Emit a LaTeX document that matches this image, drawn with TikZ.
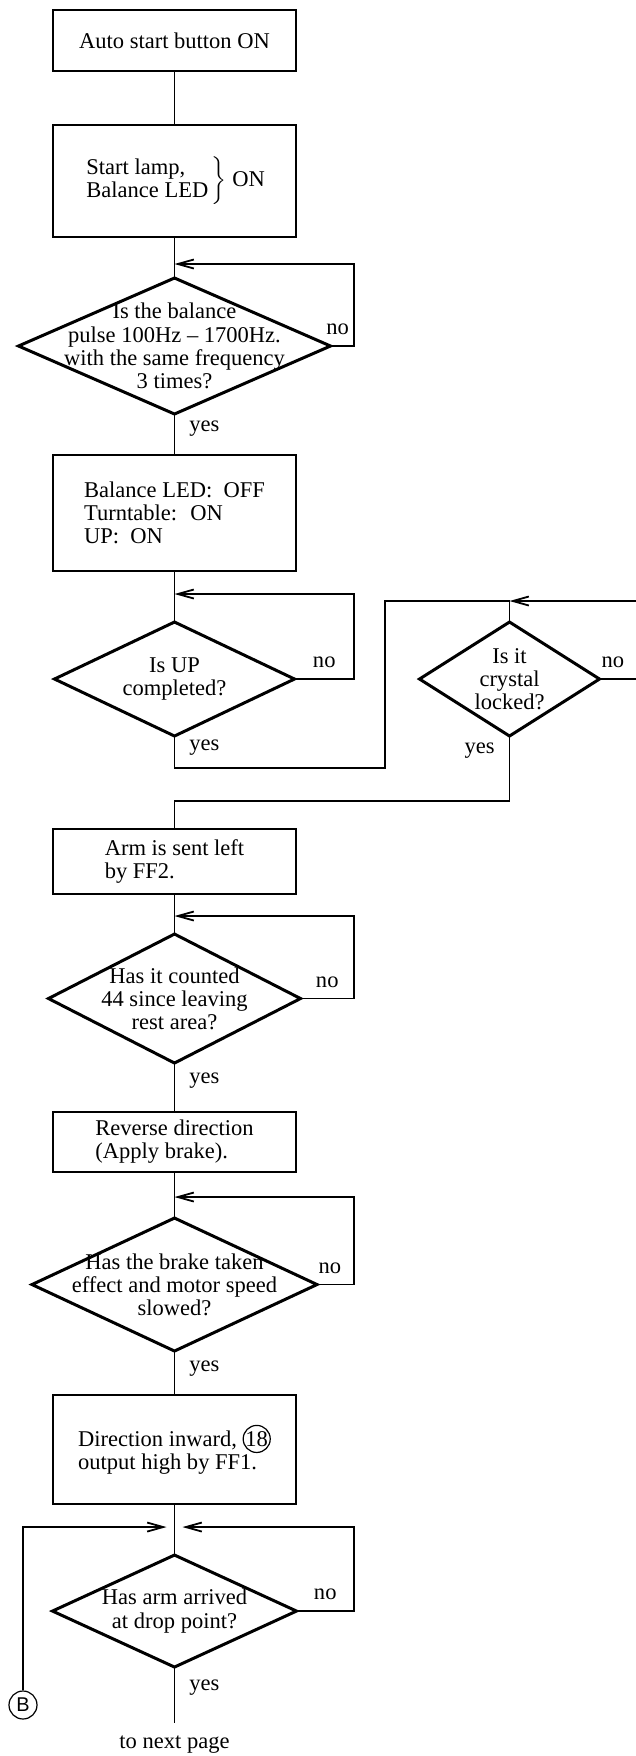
\documentclass[tikz,border=0pt]{standalone}
\usepackage{fontspec}
\setmainfont{Liberation Serif}
\setsansfont{Liberation Sans}
\usetikzlibrary{shapes.geometric, arrows.meta, positioning}

\newcommand{\circnum}[1]{\tikz[baseline=(cnum.base)]\node[draw, circle, inner sep=0pt,
    minimum width=0pt, minimum height=0pt, line width=0.6bp] (cnum) {#1};}

\begin{document}
\begin{tikzpicture}[
    x=0.5bp, y=-0.5bp,
    every node/.style={font=\fontsize{11.3}{11.6}\selectfont},
    process/.style={rectangle, draw, line width=1.2bp, minimum width=121.5bp,
        align=left, inner sep=0pt, outer sep=0pt},
    decision/.style={diamond, draw, line width=1.5bp, inner sep=0pt, outer sep=0pt},
    qtext/.style={align=center, inner sep=0pt},
    flow/.style={line width=0.9bp},
    back/.style={line width=0.9bp, -{Straight Barb[length=8bp, width=4.5bp]}},
    answer/.style={inner sep=1bp},
    connector/.style={draw, circle, line width=0.6bp, inner sep=0pt, minimum size=14bp,
        font=\sffamily\fontsize{10}{10}\selectfont}
]
\useasboundingbox (0,0) rectangle (636,1756);

% Colonna principale
\node[process, minimum height=30.5bp] (start) at (174.5,40.5) {Auto start button ON};
\node[process, minimum height=56bp, below=27bp of start] (lamp)
    {$\left.\begin{tabular}{@{}l@{}}Start lamp,\\Balance LED\end{tabular}\,\right\}$ ON};
\node[decision, minimum width=156bp, minimum height=68bp, below=20.5bp of lamp] (pulse) {};
\node[qtext] (pulset) at (pulse) {Is the balance\\pulse 100Hz -- 1700Hz.\\with the same frequency\\3 times?};
\node[process, minimum height=58bp, below=20.5bp of pulse] (status)
    {Balance LED:~ OFF\\Turntable:~ ON\\UP:~ ON};
\node[decision, minimum width=120bp, minimum height=57bp, below=25.5bp of status] (upq) {};
\node[qtext] (upqt) at (upq) {Is UP\\completed?};
\node[decision, minimum width=90bp, minimum height=57bp, right=62.5bp of upq] (crystal) {};
\node[qtext] (crystalt) at (crystal) {Is it\\crystal\\locked?};
\node[process, minimum height=32.5bp, below=46.5bp of upq] (arm) {Arm is sent left\\by FF2.};
\node[decision, minimum width=126bp, minimum height=64.5bp, below=20bp of arm] (count) {};
\node[qtext] (countt) at (count) {Has it counted\\44 since leaving\\rest area?};
\node[process, minimum height=30bp, below=24.5bp of count] (brake) {Reverse direction\\(Apply brake).};
\node[decision, minimum width=142.5bp, minimum height=66.5bp, below=23bp of brake] (slowed) {};
\node[qtext] (slowedt) at (slowed) {Has the brake taken\\effect and motor speed\\slowed?};
\node[process, minimum height=54.5bp, below=22bp of slowed] (inward)
    {Direction inward, \circnum{18}\\output high by FF1.};
\node[decision, minimum width=122bp, minimum height=56bp, below=25.5bp of inward] (drop) {};
\node[qtext] (dropt) at (drop) {Has arm arrived\\at drop point?};
\node[connector] (bconn) at (23,1705) {B};

% Punti di giunzione
\coordinate (rail) at (354,0);
\coordinate (offpage) at (660,0);
\coordinate (upturn) at (385,0);
\coordinate (j1) at ([yshift=7bp]pulse.north);
\coordinate (j2) at ([yshift=14bp]upq.north);
\coordinate (cj) at ([yshift=10.5bp]crystal.north);
\coordinate (j3) at ([yshift=9bp]count.north);
\coordinate (j4) at ([yshift=10.5bp]slowed.north);
\coordinate (j5) at ([yshift=14bp]drop.north);
\coordinate (endpt) at ([yshift=-28bp]drop.south);
\node[answer, below=5bp of endpt] (nextpage) {to next page};

% Frecce
\draw[flow] (start) -- (lamp);
\draw[flow] (lamp) -- (pulse);
\draw[back] (pulse.east) -- node[answer, above=4bp, pos=0.3] {no} (pulse.east -| rail) |- (j1);
\draw[flow] (pulse) -- node[answer, right=6bp, pos=0.35] {yes} (status);

\draw[flow] (status) -- (upq);
\draw[back] (upq.east) -- node[answer, above=4bp, pos=0.5] {no} (upq.east -| rail) |- (j2);
\draw[flow] (upq.south) -- node[answer, right=6bp, pos=0.37] {yes} ++(0,32) -| (cj -| upturn) -- (cj) -- (crystal.north);
\draw[back] (crystal.east) -- node[answer, above=4bp, pos=0.22] {no} (crystal.east -| offpage) |- (cj);
\draw[flow] (crystal.south) -- node[answer, left=6bp, pos=0.22] {yes} ++(0,65) -| (arm.north);

\draw[flow] (arm) -- (count);
\draw[back] (count.east) -- node[answer, above=4bp, pos=0.5] {no} (count.east -| rail) |- (j3);
\draw[flow] (count) -- node[answer, right=6bp, pos=0.35] {yes} (brake);

\draw[flow] (brake) -- (slowed);
\draw[back] (slowed.east) -- node[answer, above=4bp, pos=0.35] {no} (slowed.east -| rail) |- (j4);
\draw[flow] (slowed) -- node[answer, right=6bp, pos=0.39] {yes} (inward);

\draw[flow] (inward) -- (drop);
\draw[back, shorten >=4bp] (drop.east) -- node[answer, above=4bp, pos=0.5] {no} (drop.east -| rail) |- (j5);
\draw[back, shorten >=4bp] (bconn) |- (j5);
\draw[flow] (drop) -- node[answer, right=6bp, pos=0.36] {yes} (endpt);

\end{tikzpicture}
\end{document}
